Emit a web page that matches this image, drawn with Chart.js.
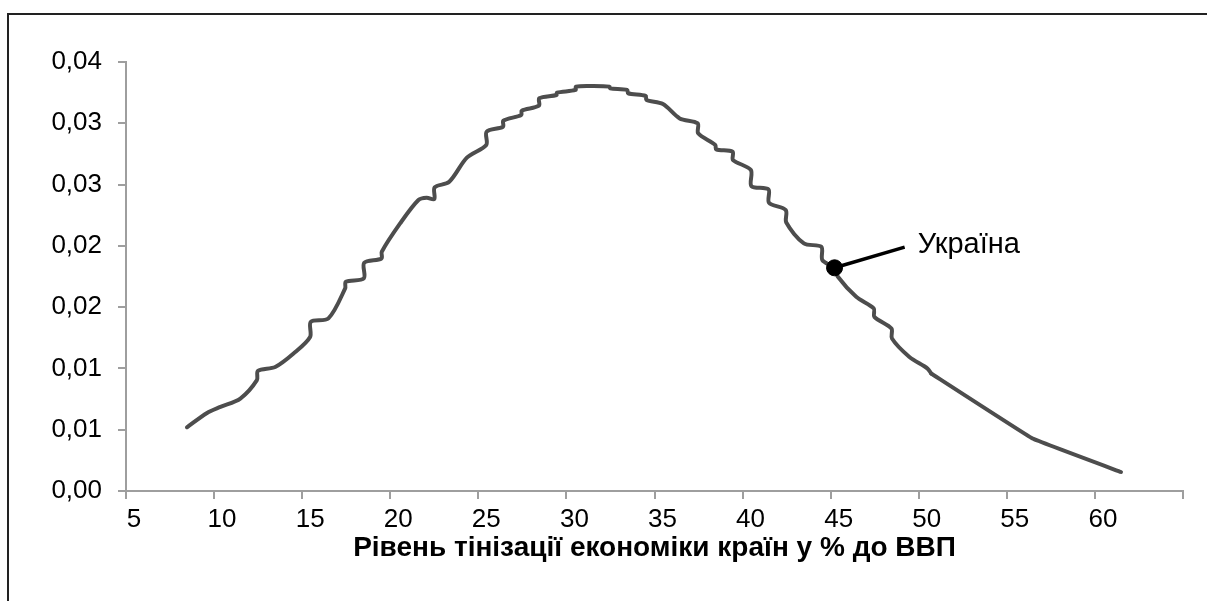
<!DOCTYPE html>
<html>
<head>
<meta charset="utf-8">
<script src="https://cdn.jsdelivr.net/npm/chart.js@4"></script>
<style>
  html, body { margin: 0; padding: 0; background: #fff; }
  #wrap { position: relative; width: 1207px; height: 601px; }
  #frame { position: absolute; left: 7px; top: 13px; right: -5px; bottom: -5px;
           border-left: 2px solid #222; border-top: 2px solid #222; }
  canvas { position: absolute; left: 0; top: 0; }
</style>
</head>
<body>
<div id="wrap">
  <div id="frame"></div>
  <canvas id="chart" width="1207" height="601"></canvas>
</div>
<script>
// рівень тінізації (% ВВП) і щільність розподілу
const shadowLevel = [
  8.46, 9.6, 10.36, 11.49, 12.43, 12.49, 13.47, 14.51, 15.45, 15.49,
  16.49, 17.44, 17.48, 18.5, 18.52, 19.5, 19.52, 20.56, 21.6, 22.07,
  22.5, 22.52, 23.35, 24.35, 25.45, 25.47, 26.4, 26.42, 27.44, 27.46,
  28.44, 28.46, 29.44, 29.46, 30.52, 30.54, 31.51, 32.45, 32.47, 33.45,
  33.5, 34.5, 34.54, 35.48, 36.43, 37.45, 37.48, 38.45, 38.5, 39.43,
  39.46, 40.47, 40.5, 41.47, 41.5, 42.45, 42.48, 43.48, 44.47, 44.53,
  45.22, 45.4, 46.45, 47.45, 47.48, 48.45, 48.48, 49.47, 50.5, 50.7
];
const density = [
  0.0052, 0.00637, 0.00686, 0.00754, 0.00904, 0.0098, 0.01012, 0.01122, 0.01257, 0.0138,
  0.01408, 0.01653, 0.01707, 0.01734, 0.01862, 0.01897, 0.01952, 0.02183, 0.02374, 0.02393,
  0.02382, 0.02477, 0.02523, 0.0272, 0.02823, 0.02931, 0.02972, 0.03021, 0.03068, 0.03103,
  0.03144, 0.03204, 0.03231, 0.0325, 0.03272, 0.03299, 0.03304, 0.03299, 0.03285, 0.03272,
  0.03245, 0.03223, 0.0319, 0.03157, 0.0304, 0.03, 0.02918, 0.02823, 0.02787, 0.02768,
  0.027, 0.02619, 0.02488, 0.02461, 0.02352, 0.02292, 0.0219, 0.0202, 0.01992, 0.01884,
  0.01821, 0.0175, 0.01584, 0.01489, 0.01421, 0.01326, 0.01244, 0.01094, 0.00999, 0.00959
];
// хвіст розподілу (рідкі точки, майже прямі відрізки)
const tailLevel = [50.7, 56.46, 61.48];
const tailDensity = [0.00959, 0.00428, 0.00155];

// Україна
const ukraineX = 45.22;
const ukraineY = 0.01821;
const ukraineLabel = "Україна";
const leaderEndX = 49.2;
const leaderEndY = 0.0199;

// підписи осі Y (як в Excel, округлені до двох знаків)
const yTickLabels = ["0,00", "0,01", "0,01", "0,02", "0,02", "0,03", "0,03", "0,04"];
const xTitle = "Рівень тінізації економіки країн у % до ВВП";

const FONT = "'Liberation Sans', Arial, sans-serif";
const LINE = "#4d4d4d";

const points = shadowLevel.map((x, i) => ({ x: x, y: density[i] }));
const tailPoints = tailLevel.map((x, i) => ({ x: x, y: tailDensity[i] }));

// підпис "Україна" біля кінця лінії-виноски
const labelPlugin = {
  id: "ukraineLabel",
  afterDatasetsDraw(chart) {
    const ctx = chart.ctx;
    const px = chart.scales.x.getPixelForValue(leaderEndX);
    const py = chart.scales.y.getPixelForValue(leaderEndY);
    ctx.save();
    ctx.font = "29px " + FONT;
    ctx.fillStyle = "#000";
    ctx.textAlign = "left";
    ctx.textBaseline = "alphabetic";
    ctx.fillText(ukraineLabel, px + 13, py + 6);
    ctx.restore();
  }
};

new Chart(document.getElementById("chart"), {
  type: "scatter",
  data: {
    datasets: [
      {
        label: "Україна",
        data: [{ x: ukraineX, y: ukraineY }],
        pointRadius: 8,
        pointBackgroundColor: "#000",
        pointBorderColor: "#000",
        showLine: false,
      },
      {
        label: "leader",
        data: [{ x: ukraineX, y: ukraineY }, { x: leaderEndX, y: leaderEndY }],
        showLine: true,
        borderColor: "#000",
        borderWidth: 3.5,
        pointRadius: 0,
        tension: 0,
      },
      {
        label: "density",
        data: points,
        showLine: true,
        borderColor: LINE,
        borderWidth: 4,
        pointRadius: 0,
        tension: 0.3,
        borderCapStyle: "round",
        borderJoinStyle: "round",
      },
      {
        label: "tail",
        data: tailPoints,
        showLine: true,
        borderColor: LINE,
        borderWidth: 4,
        pointRadius: 0,
        tension: 0.05,
        borderCapStyle: "round",
        borderJoinStyle: "round",
      },
    ],
  },
  options: {
    responsive: false,
    animation: false,
    layout: { padding: { left: 0, top: 62, right: 24, bottom: 0 } },
    plugins: { legend: { display: false }, tooltip: { enabled: false } },
    scales: {
      x: {
        type: "linear",
        min: 5,
        max: 65,
        afterFit: (scale) => { scale.height = 110; },
        border: { color: "#9e9e9e", width: 2 },
        grid: { drawOnChartArea: false, drawTicks: true, tickLength: 8, color: "#9e9e9e", lineWidth: 2 },
        ticks: {
          stepSize: 5,
          color: "#000",
          font: { family: FONT, size: 26 },
          padding: 5,
          labelOffset: 8,
          maxRotation: 0,
          callback: (v) => (v >= 65 ? "" : String(v)),
        },
        title: {
          display: true,
          text: xTitle,
          color: "#000",
          font: { family: FONT, size: 28, weight: "bold" },
          padding: { top: 0, bottom: 36 },
        },
      },
      y: {
        min: 0,
        max: 0.035,
        afterFit: (scale) => { scale.width = 126; },
        border: { color: "#9e9e9e", width: 2 },
        grid: { drawOnChartArea: false, drawTicks: true, tickLength: 8, color: "#9e9e9e", lineWidth: 2 },
        ticks: {
          stepSize: 0.005,
          color: "#000",
          font: { family: FONT, size: 26 },
          padding: 16,
          callback: (v, i) => yTickLabels[i],
        },
      },
    },
  },
  plugins: [labelPlugin],
});
</script>
</body>
</html>
